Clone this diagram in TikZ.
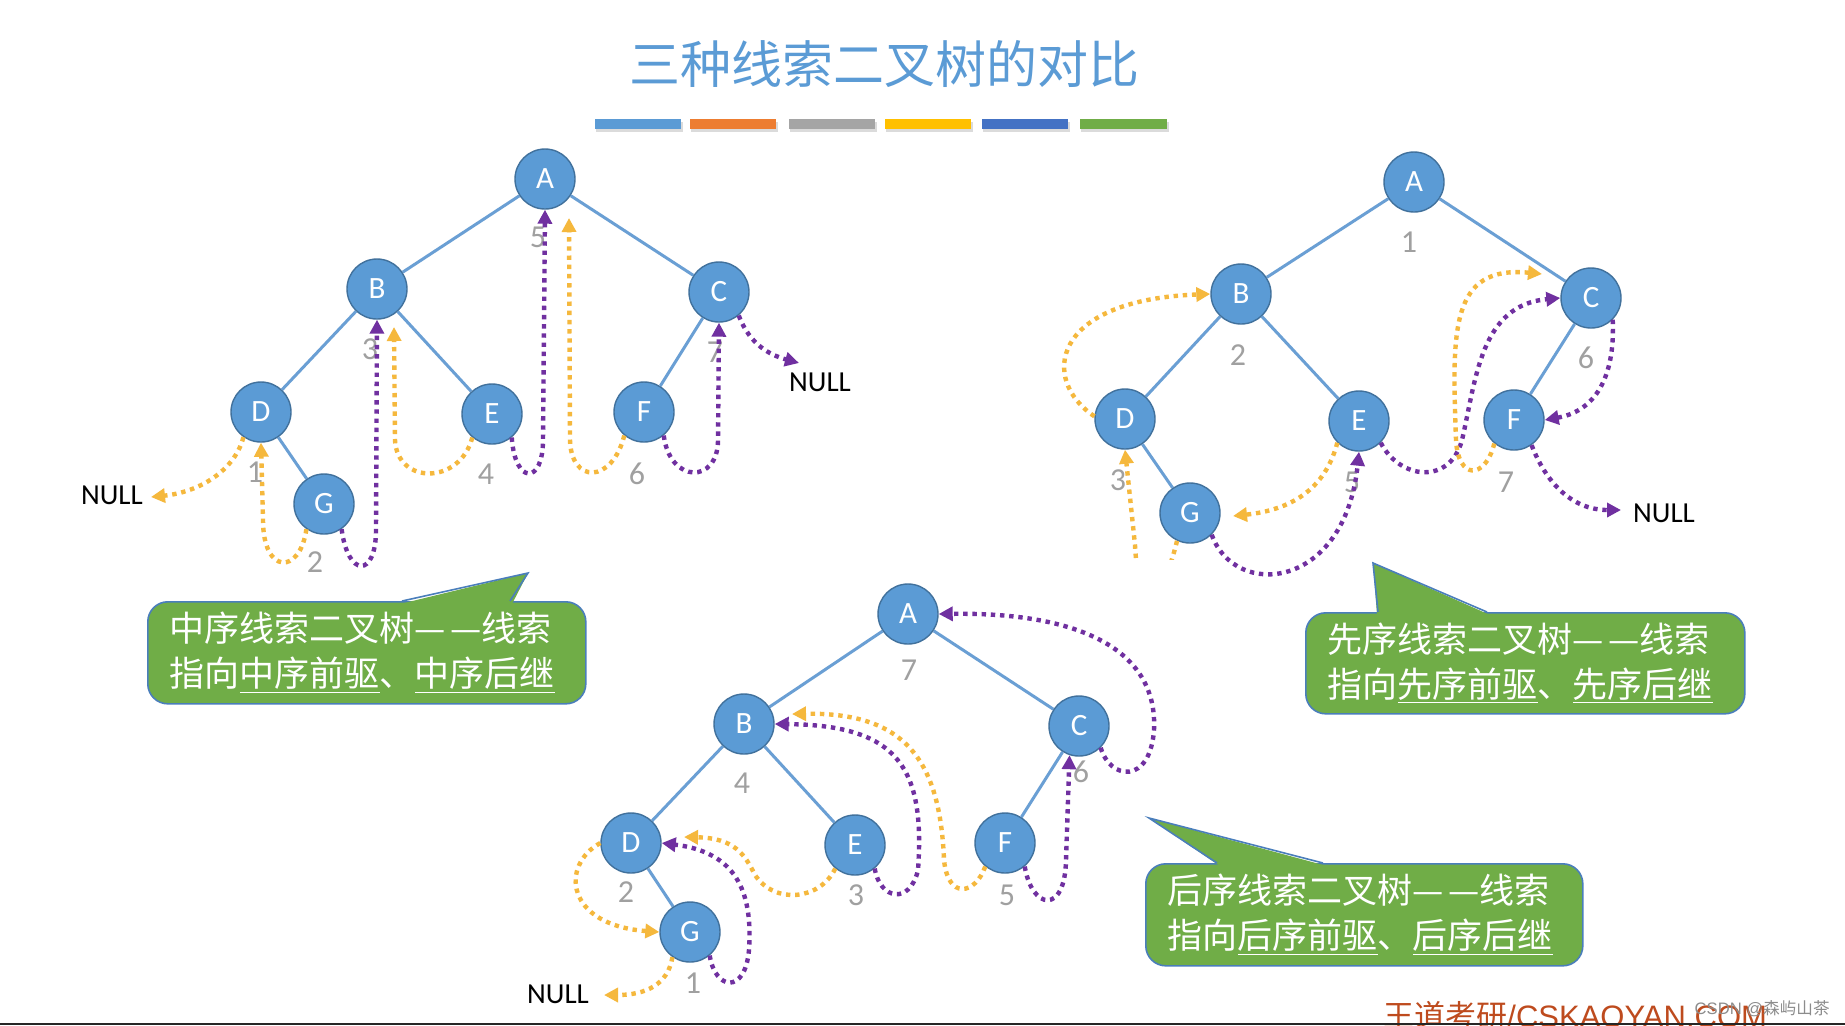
\documentclass[tikz,border=0pt]{standalone}
\usepackage{fontspec}
\setmainfont{Carlito}
\newfontfamily\cjk{Noto Sans CJK SC}
\newfontfamily\arialf{Liberation Sans}
\usetikzlibrary{arrows.meta}
\definecolor{nodeblue}{HTML}{5B9BD5}
\definecolor{nodeedge}{HTML}{41719C}
\definecolor{edgeblue}{HTML}{6A9FD4}
\definecolor{thy}{HTML}{F5B83D}
\definecolor{thp}{HTML}{7030A0}
\definecolor{numgray}{HTML}{A0A0A0}
\definecolor{callgreen}{HTML}{70AD47}
\definecolor{callborder}{HTML}{4A7EBB}
\definecolor{brandred}{HTML}{BE4B1E}
\definecolor{barA}{HTML}{5B9BD5}
\definecolor{barB}{HTML}{ED7D31}
\definecolor{barC}{HTML}{A5A5A5}
\definecolor{barD}{HTML}{FFC000}
\definecolor{barE}{HTML}{4472C4}
\definecolor{barF}{HTML}{70AD47}
\newcommand{\ddash}{—\kern2pt—}
\begin{document}
\begin{tikzpicture}[x=0.5pt,y=-0.5pt,
  tnode/.style={circle,fill=nodeblue,draw=nodeedge,line width=0.7pt,minimum size=30pt,inner sep=0pt,text=white,font=\fontsize{15.5}{15.5}\selectfont},
  tedge/.style={draw=edgeblue,line width=1.5pt},
  num/.style={text=numgray,font=\fontsize{16}{16}\selectfont,inner sep=0pt},
  nulltxt/.style={text=black,font=\fontsize{14.5}{14.5}\selectfont,inner sep=0pt},
  thread/.style={line width=2.2pt,dash pattern=on 2.2pt off 2.4pt,-{Triangle[length=7pt,width=7pt]}},
  ythread/.style={thread,draw=thy},
  pthread/.style={thread,draw=thp},
  callbox/.style={rectangle,rounded corners=10pt,fill=callgreen,draw=callborder,line width=0.8pt,anchor=north west,inner xsep=11pt,inner ysep=0pt,text=white,align=left,font=\cjk\fontsize{17.5}{22.5}\selectfont},
  pointer/.style={draw=callborder,line width=0.8pt},
]
\useasboundingbox (0,0) rectangle (1845,1025);
\fill[white] (0,0) rectangle (1845,1025);

% ---------- title and colour bars ----------
\node[text=nodeblue,font=\cjk\fontsize{25.5}{25.5}\selectfont,inner sep=0pt] (title) at (884,64) {三种线索二叉树的对比};
\foreach \xa/\xb/\c in {595/681/barA,690/776/barB,789/875/barC,885/971/barD,982/1068/barE,1080/1167/barF}{
  \fill[black!14] (\xa+1,122) rectangle (\xb+2,132);
  \fill[\c] (\xa,119) rectangle (\xb,129);
}

% ---------- left tree: in-order ----------
\node[tnode] (lA) at (545,179) {A};
\node[tnode] (lB) at (377,289) {B};
\node[tnode] (lC) at (719,292) {C};
\node[tnode] (lD) at (261,412) {D};
\node[tnode] (lE) at (492,414) {E};
\node[tnode] (lF) at (644,412) {F};
\node[tnode] (lG) at (324,504) {G};
\draw[tedge] (lA) -- (lB);
\draw[tedge] (lA) -- (lC);
\draw[tedge] (lB) -- (lD);
\draw[tedge] (lB) -- (lE);
\draw[tedge] (lC) -- (lF);
\draw[tedge] (lD) -- (lG);
\node[num] (ln1) at (255,472) {1};
\node[num] (ln2) at (315,562) {2};
\node[num] (ln3) at (370,349) {3};
\node[num] (ln4) at (486,474) {4};
\node[num] (ln5) at (538,237) {5};
\node[num] (ln6) at (637,474) {6};
\node[num] (ln7) at (715,352) {7};
\node[nulltxt] (nullA) at (112,495) {NULL};
\node[nulltxt] (nullB) at (820,382) {NULL};
\coordinate (tipA) at (151,497);
\coordinate (tipB) at (799,363);
\coordinate (yB1) at (394,327);
\coordinate (yA1) at (569,218);
\draw[ythread] (lD.-125) .. controls (235,470) and (200,492) .. (tipA);
\draw[ythread] (lG.-125) .. controls (300,575) and (263,575) .. (263,520) -- (lD.south);
\draw[pthread] (lG.-55) .. controls (348,578) and (376,578) .. (376,530) -- (lB.south);
\draw[ythread] (lE.-130) .. controls (460,485) and (397,485) .. (395,440) -- (yB1);
\draw[pthread] (lE.-50) .. controls (515,485) and (543,485) .. (543,440) -- (lA.south);
\draw[ythread] (lF.-130) .. controls (612,484) and (571,484) .. (570,440) -- (yA1);
\draw[pthread] (lF.-50) .. controls (670,484) and (718,484) .. (718,440) -- (lC.south);
\draw[pthread] (lC.-50) .. controls (750,345) and (770,355) .. (tipB);

% ---------- right tree: pre-order ----------
\node[tnode] (rA) at (1414,182) {A};
\node[tnode] (rB) at (1241,294) {B};
\node[tnode] (rC) at (1591,298) {C};
\node[tnode] (rD) at (1125,419) {D};
\node[tnode] (rE) at (1359,421) {E};
\node[tnode] (rF) at (1514,420) {F};
\node[tnode] (rG) at (1190,513) {G};
\draw[tedge] (rA) -- (rB);
\draw[tedge] (rA) -- (rC);
\draw[tedge] (rB) -- (rD);
\draw[tedge] (rB) -- (rE);
\draw[tedge] (rC) -- (rF);
\draw[tedge] (rD) -- (rG);
\node[num] (rn1) at (1409,242) {1};
\node[num] (rn2) at (1238,355) {2};
\node[num] (rn3) at (1118,480) {3};
\node[num] (rn5) at (1352,482) {5};
\node[num] (rn6) at (1586,358) {6};
\node[num] (rn7) at (1506,482) {7};
\node[nulltxt] (nullC) at (1664,513) {NULL};
\coordinate (tipC) at (1621,510);
\coordinate (yG2) at (1233,516);
\coordinate (yC2) at (1542,274);
\draw[ythread] (rD.175) .. controls (1040,380) and (1050,300) .. (rB.west);
\begin{scope}
  \clip (1050,380) rectangle (1260,559);
  \draw[ythread] (rG.-115) .. controls (1160,610) and (1138,610) .. (1135,545) -- (rD.south);
\end{scope}
\draw[pthread] (rG.-45) .. controls (1235,600) and (1345,590) .. (rE.south);
\draw[ythread] (rE.-135) .. controls (1325,490) and (1290,510) .. (yG2);
\draw[pthread] (rE.-45) .. controls (1400,480) and (1450,485) .. (1462,440) .. controls (1476,380) and (1480,305) .. (rC.west);
\draw[ythread] (rF.-130) .. controls (1485,480) and (1458,480) .. (1456,440) .. controls (1452,330) and (1450,265) .. (yC2);
\draw[pthread] (rC.-45) .. controls (1615,370) and (1600,410) .. (rF.east);
\draw[pthread] (rF.-55) .. controls (1545,480) and (1570,510) .. (tipC);

% ---------- bottom tree: post-order ----------
\node[tnode] (bA) at (908,614) {A};
\node[tnode] (bB) at (744,724) {B};
\node[tnode] (bC) at (1079,726) {C};
\node[tnode] (bD) at (631,843) {D};
\node[tnode] (bE) at (855,845) {E};
\node[tnode] (bF) at (1005,843) {F};
\node[tnode] (bG) at (690,932) {G};
\draw[tedge] (bA) -- (bB);
\draw[tedge] (bA) -- (bC);
\draw[tedge] (bB) -- (bD);
\draw[tedge] (bB) -- (bE);
\draw[tedge] (bC) -- (bF);
\draw[tedge] (bD) -- (bG);
\node[num] (bn7) at (909,670) {7};
\node[num] (bn4) at (742,783) {4};
\node[num] (bn2) at (626,892) {2};
\node[num] (bn3) at (856,895) {3};
\node[num] (bn5) at (1007,895) {5};
\node[num] (bn6) at (1081,772) {6};
\node[num] (bn1) at (693,983) {1};
\node[nulltxt] (nullD) at (558,994) {NULL};
\coordinate (tipD) at (604,995);
\coordinate (yD3) at (684,837);
\coordinate (yB3) at (792,714);
\draw[ythread] (bG.-125) .. controls (668,985) and (645,995) .. (tipD);
\draw[pthread] (bG.-50) .. controls (715,990) and (745,995) .. (749,950) .. controls (753,890) and (735,852) .. (bD.east);
\draw[ythread] (bD.west) .. controls (560,865) and (565,925) .. (bG.west);
\draw[ythread] (bE.-130) .. controls (820,900) and (775,905) .. (755,875) .. controls (745,855) and (735,838) .. (yD3);
\draw[pthread] (bE.-50) .. controls (880,900) and (910,905) .. (918,870) .. controls (925,770) and (900,725) .. (bB.east);
\draw[ythread] (bF.-130) .. controls (975,895) and (948,900) .. (944,860) .. controls (940,760) and (905,712) .. (yB3);
\draw[pthread] (bF.-50) .. controls (1032,910) and (1065,915) .. (1066,860) -- (bC.-108);
\draw[pthread] (bC.-45) .. controls (1110,780) and (1150,785) .. (1154,730) .. controls (1158,650) and (1080,612) .. (bA.east);

% ---------- callouts ----------
\node[callbox,text width=197pt,minimum height=51pt] (cIn) at (147,601)
  {中序线索二叉树\ddash 线索\\指向\underline{中序前驱}、\underline{中序后继}};
\fill[callgreen] (400,604) -- (528,573) -- (512,604) -- cycle;
\draw[pointer] (402,601) -- (528,573) -- (510,601);

\node[callbox,text width=197.5pt,minimum height=50.5pt] (cPre) at (1305,612)
  {先序线索二叉树\ddash 线索\\指向\underline{先序前驱}、\underline{先序后继}};
\fill[callgreen] (1377,615) -- (1373,563) -- (1490,615) -- cycle;
\draw[pointer] (1378,612) -- (1373,563) -- (1487,612);

\node[callbox,text width=196.5pt,minimum height=51pt] (cPost) at (1145,863)
  {后序线索二叉树\ddash 线索\\指向\underline{后序前驱}、\underline{后序后继}};
\fill[callgreen] (1220,866) -- (1149,818) -- (1327,866) -- cycle;
\draw[pointer] (1217,863) -- (1149,818) -- (1323,863);

% ---------- footer ----------
\node[anchor=base west,inner sep=0pt,text=brandred,font=\fontsize{15.5}{15.5}\selectfont] (brand) at (1383,1027) {{\cjk 王道考研}{\arialf /CSKAOYAN.COM}};
\node[anchor=east,inner sep=0pt,text=black!45,font=\fontsize{8.3}{8.3}\selectfont] (csdn) at (1830,1009) {{\arialf CSDN @}{\cjk 森屿山茶}};
\draw[black!85,line width=1pt] (0,1024) -- (1845,1024);
\end{tikzpicture}
\end{document}
